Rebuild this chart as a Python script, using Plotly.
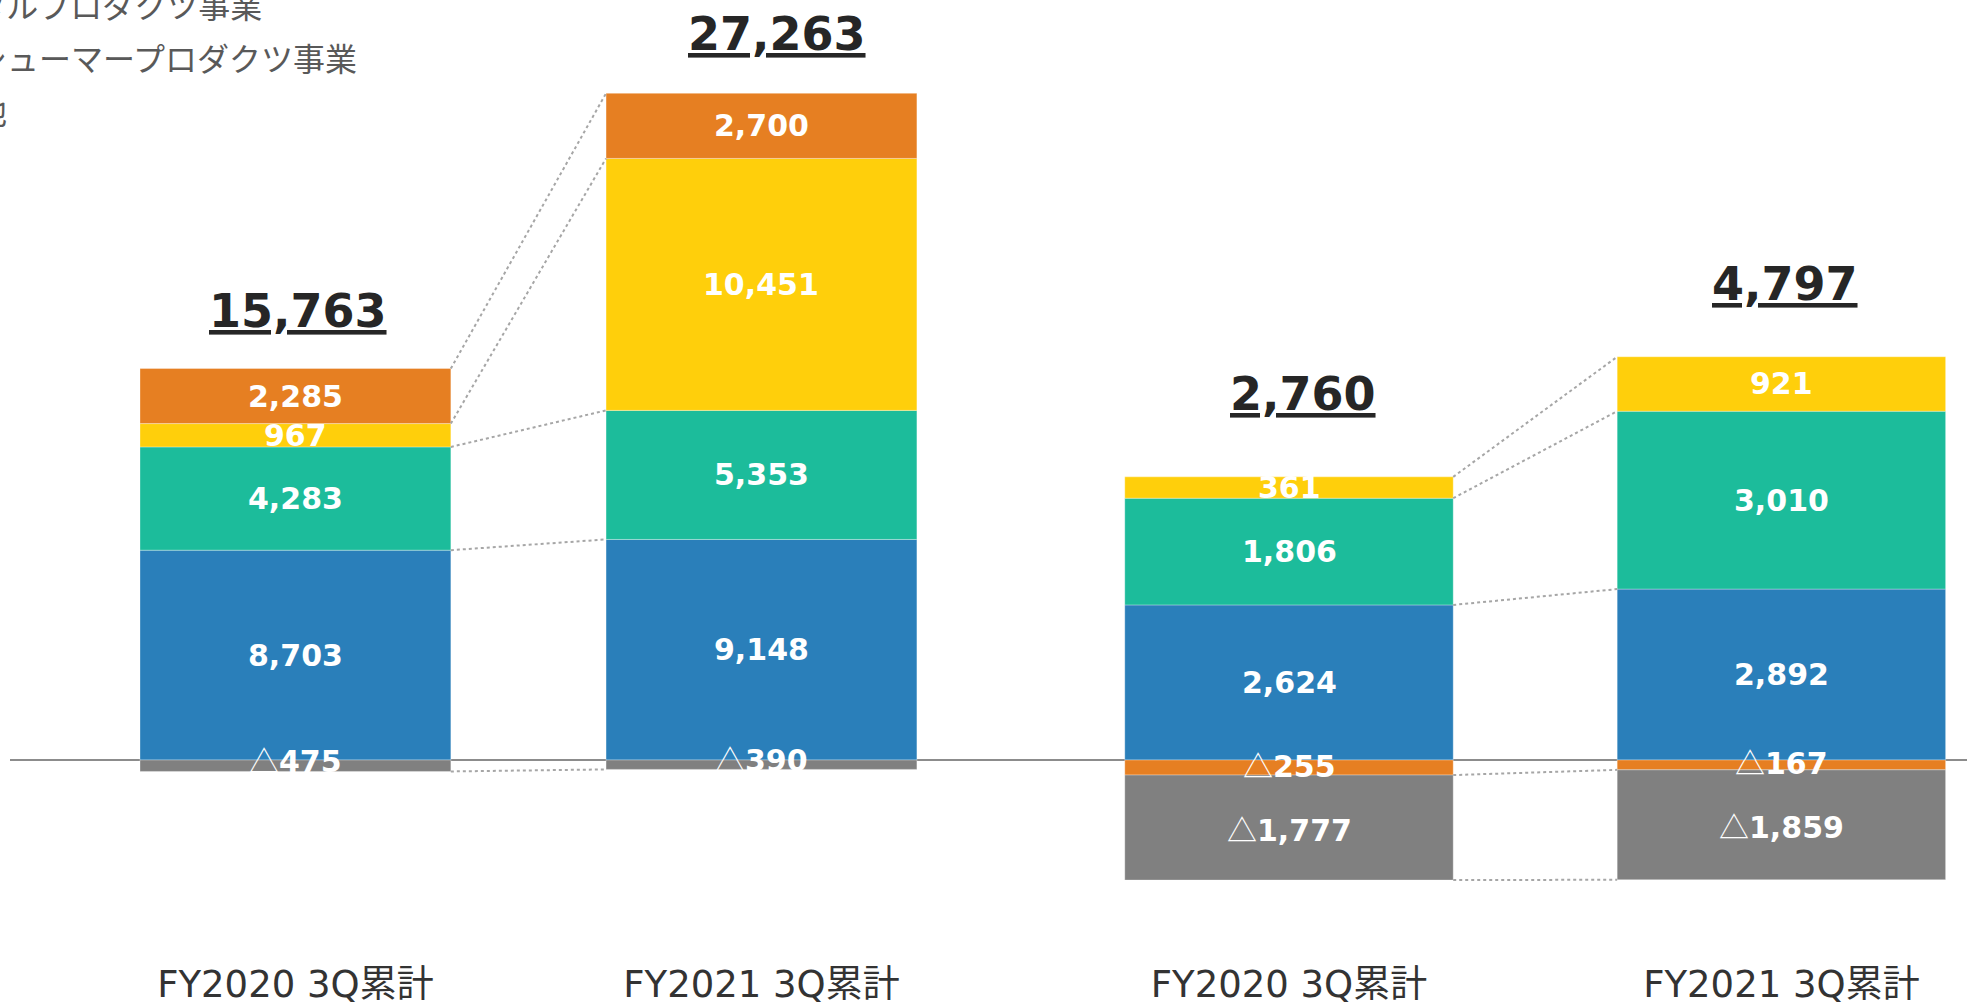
import plotly.graph_objects as go

# 期間ラベル
periods = ["FY2020 3Q累計", "FY2021 3Q累計"]

# 左グループ(売上高)セグメント別
sales_blue = [8703, 9148]
sales_green = [4283, 5353]
sales_yellow = [967, 10451]
sales_orange = [2285, 2700]
sales_gray = [-475, -390]
sales_total = [15763, 27263]

# 右グループ(利益)セグメント別
profit_blue = [2624, 2892]
profit_green = [1806, 3010]
profit_yellow = [361, 921]
profit_orange = [-255, -167]
profit_gray = [-1777, -1859]
profit_total = [2760, 4797]

# 凡例(左上、大部分が画面外)
legend_names = ["デジタルプロダクツ事業", "コンシューマープロダクツ事業", "その他"]

colors = {"blue": "#2A7FBA", "green": "#1CBC9B", "yellow": "#FFCF0B",
          "orange": "#E67F22", "gray": "#808080"}

W, H = 1967, 1006
MB = 50
PLOT_H = H - MB
BARGAP = 0.333
NUM_FONT = "DejaVu Sans"


def fmt(v):
    if v >= 0:
        return f"{v:,}"
    return ('<span style="font-family:\'Noto Sans CJK JP\';font-weight:normal">△</span>'
            + f"{-v:,}")


def segments(series, i):
    # 各セグメントの(下端, 上端)、正は上へ負は下へ積む
    pos, neg, out = 0, 0, []
    for vals in series:
        v = vals[i]
        if v >= 0:
            out.append((pos, pos + v))
            pos += v
        else:
            out.append((neg + v, neg))
            neg += v
    return out


def levels(series, i):
    # つなぎ線を引く境界(0以外)
    pos, neg, up, down = 0, 0, [], []
    for vals in series:
        v = vals[i]
        if v >= 0:
            pos += v
            up.append(pos)
        else:
            neg += v
            down.append(neg)
    return up + down


fig = go.Figure()
xpos = list(range(len(periods)))

# (x軸, y軸, 系列, 合計, 合計ラベルの上ずれ, 横ずれ, ゼロ直下の負値ラベルの持ち上げ)
groups = [
    ("x", "y", [("blue", sales_blue), ("green", sales_green), ("yellow", sales_yellow),
                ("orange", sales_orange), ("gray", sales_gray)], sales_total,
     [58, 59], [3, 16], 7),
    ("x2", "y2", [("blue", profit_blue), ("green", profit_green), ("yellow", profit_yellow),
                  ("orange", profit_orange), ("gray", profit_gray)], profit_total,
     [83, 73], [14, 4], 4),
]

annotations = []
for xa, ya, series, totals, label_gap, label_dx, lift in groups:
    vals_only = [v for _, v in series]
    for key, vals in series:
        fig.add_trace(go.Bar(
            x=xpos, y=vals, name=key, xaxis=xa, yaxis=ya,
            marker=dict(color=colors[key], line=dict(width=0.8, color="rgba(255,255,255,0.4)")),
            hoverinfo="skip", showlegend=False))

    # セグメント内の数値
    for i in xpos:
        segs = segments(vals_only, i)
        for vals, (lo, hi) in zip(vals_only, segs):
            v = vals[i]
            next_to_zero = v < 0 and abs(hi) < 1e-9
            annotations.append(dict(
                x=i, y=(lo + hi) / 2, xref=xa, yref=ya, text=fmt(v), showarrow=False,
                yanchor="middle", yshift=lift if next_to_zero else 0,
                font=dict(family=NUM_FONT, size=30, color="white", weight="bold")))

    # 点線のつなぎ線
    b0, b1 = levels(vals_only, 0), levels(vals_only, 1)
    half = (1 - BARGAP) / 2
    lx, ly = [], []
    for a, b in zip(b0, b1):
        lx += [xpos[0] + half, xpos[1] - half, None]
        ly += [a, b, None]
    fig.add_trace(go.Scatter(x=lx, y=ly, mode="lines", xaxis=xa, yaxis=ya,
                             line=dict(color="#A6A6A6", width=2, dash="dot"),
                             hoverinfo="skip", showlegend=False))

    # 合計ラベル
    for i, t in enumerate(totals):
        top = sum(v[i] for v in vals_only if v[i] > 0)
        annotations.append(dict(
            x=xpos[i], y=top, xref=xa, yref=ya, text=f"<u>{t:,}</u>",
            showarrow=False, yanchor="middle", yshift=label_gap[i], xshift=label_dx[i],
            font=dict(family=NUM_FONT, size=46, color="#262626", weight="bold")))

for i, name in enumerate(legend_names):
    annotations.append(dict(
        x=-91 / W, y=1 - [4, 57, 110][i] / PLOT_H, xref="paper", yref="paper",
        xanchor="left", yanchor="middle", text=name, showarrow=False,
        font=dict(family="Noto Sans CJK JP", size=32, color="#595959")))

s1 = 0.02411
s2 = 0.0591
zero_px = 760

axis_font = dict(family="DejaVu Sans, Noto Sans CJK JP", size=37, color="#333333")
common_x = dict(tickvals=xpos, ticktext=periods, showgrid=False, zeroline=False,
                showline=False, ticks="", tickfont=axis_font, fixedrange=True,
                ticklabelstandoff=3)
common_y = dict(visible=False, showgrid=False, zeroline=False, fixedrange=True)

fig.update_layout(
    width=W, height=H,
    margin=dict(l=0, r=0, t=0, b=MB, autoexpand=False),
    barmode="relative", bargap=BARGAP,
    plot_bgcolor="white", paper_bgcolor="white",
    xaxis=dict(domain=[62.4 / W, 994.5 / W], range=[-0.5, 1.5], anchor="y", **common_x),
    yaxis=dict(domain=[0, 1], range=[-(PLOT_H - zero_px) / s1, zero_px / s1], anchor="x", **common_y),
    xaxis2=dict(domain=[1042.8 / W, 1], range=[-0.5, 1 + (W - 1781.4) / 492.4], anchor="y2", **common_x),
    yaxis2=dict(domain=[0, 1], range=[-(PLOT_H - zero_px) / s2, zero_px / s2], anchor="x2", **common_y),
    annotations=annotations,
    shapes=[dict(type="line", xref="paper", yref="y", x0=10 / W, x1=1, y0=0, y1=0,
                 line=dict(color="#8C8C8C", width=2), layer="below")],
)

fig.write_html("out.html", config={"displayModeBar": False},
               post_script="document.body.style.margin='0';")
